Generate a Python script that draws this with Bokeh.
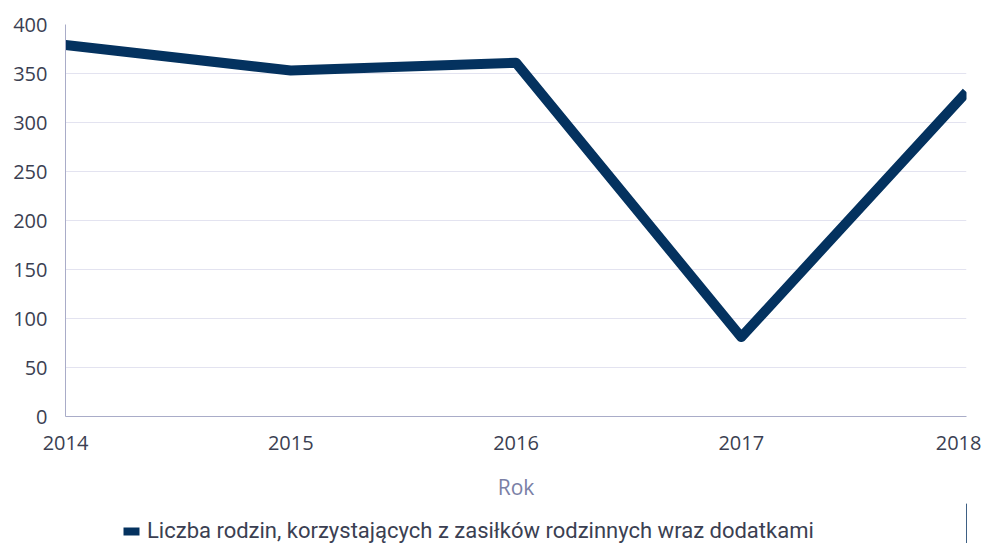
from bokeh.plotting import figure
from bokeh.layouts import column
from bokeh.models import Range1d, FixedTicker, Legend, LegendItem
from bokeh.embed import file_html
from bokeh.resources import INLINE

years = [2014, 2015, 2016, 2017, 2018]
families = [379, 353, 361, 81, 331]
y_ticks = [0, 50, 100, 150, 200, 250, 300, 350, 400]
series_name = "Liczba rodzin, korzystających z zasiłków rodzinnych wraz dodatkami"
x_label = "Rok"

NAVY = "#04325f"
FONT = "Open Sans"
p = figure(frame_width=901, frame_height=392, output_backend="svg", toolbar_location=None,
           x_range=Range1d(2014, 2018), y_range=Range1d(0, 400),
           min_border_left=65, min_border_right=15, min_border_top=24, min_border_bottom=0)
p.outline_line_color = None
p.background_fill_color = "white"

r = p.line(years, families, line_width=10, line_color=NAVY, line_join="round", line_cap="butt")

p.xaxis.ticker = FixedTicker(ticks=years)
p.yaxis.ticker = FixedTicker(ticks=y_ticks)
for ax in (p.xaxis[0], p.yaxis[0]):
    ax.axis_line_color = "#a9acc8"
    ax.major_tick_line_color = None
    ax.minor_tick_line_color = None
    ax.major_label_text_font = FONT
    ax.major_label_text_font_size = "20px"
    ax.major_label_text_color = "#3b3f52"
p.xaxis.major_label_standoff = 13
p.yaxis.major_label_standoff = 12
p.xaxis.axis_label = x_label
p.xaxis.axis_label_text_font = FONT
p.xaxis.axis_label_text_font_style = "normal"
p.xaxis.axis_label_text_font_size = "21px"
p.xaxis.axis_label_text_color = "#7a80a6"
p.xaxis.axis_label_standoff = 20
p.xgrid.grid_line_color = None
p.ygrid.grid_line_color = "#e3e3f0"

# legend strip below the chart (series swatch drawn off-range, only its legend entry shows)
p2 = figure(width=981, height=40, output_backend="svg", toolbar_location=None,
            x_range=Range1d(0, 1), y_range=Range1d(0, 1),
            x_axis_location=None, y_axis_location=None,
            min_border_left=0, min_border_right=0, min_border_top=0, min_border_bottom=0)
p2.outline_line_color = None
p2.grid.visible = False
swatch = p2.vbar(x=years, top=families, width=0.5, fill_color=NAVY, line_color=None)

legend = Legend(items=[LegendItem(label=series_name, renderers=[swatch])],
                location=(56, 0), orientation="horizontal",
                label_text_font="Roboto", label_text_font_size="22px", label_text_color="#3b3f52",
                glyph_width=20, glyph_height=10, label_standoff=6,
                border_line_color=None, background_fill_alpha=0, margin=0, padding=0)
p2.add_layout(legend, "center")

open("out.html", "w").write(file_html(column(p, p2, spacing=0), INLINE))
